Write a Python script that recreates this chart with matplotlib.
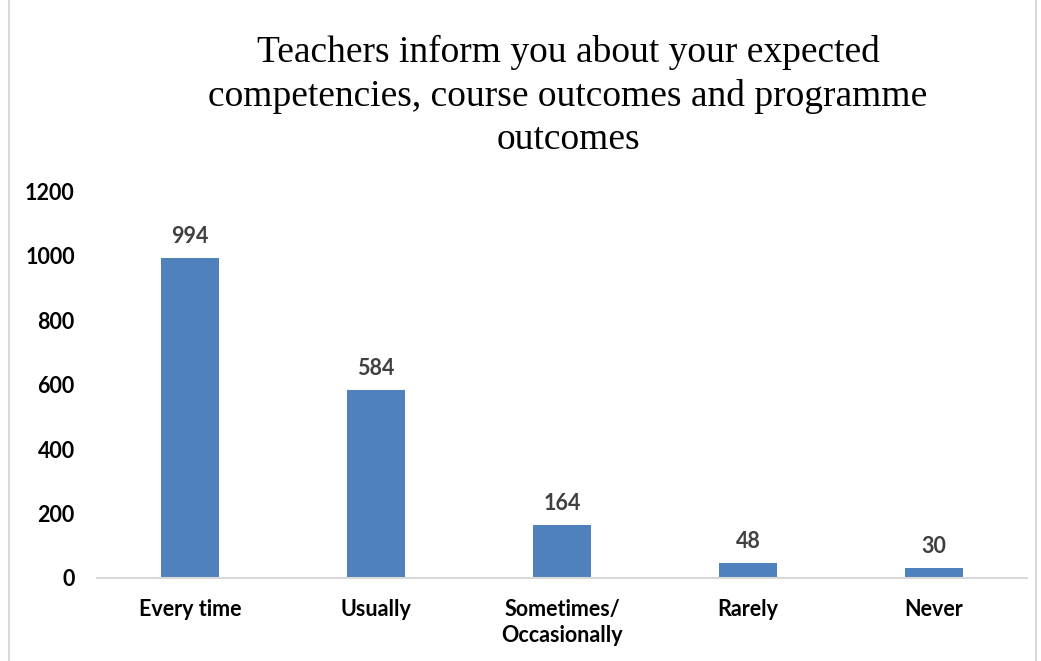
import numpy as np
import matplotlib.pyplot as plt
from matplotlib.patches import Rectangle

categories = ["Every time", "Usually", "Sometimes/\nOccasionally", "Rarely", "Never"]
counts = [994, 584, 164, 48, 30]
yticks = [0, 200, 400, 600, 800, 1000, 1200]
title = "Teachers inform you about your expected\ncompetencies, course outcomes and programme\noutcomes"

W, H = 1041, 661
fig = plt.figure(figsize=(W / 100, H / 100), dpi=100)

# chart frame
fig.patches.append(Rectangle((9 / W, -0.05), 1027 / W, 1.2, transform=fig.transFigure,
                             fill=False, edgecolor="#d9d9d9", linewidth=1.5))

ax = fig.add_axes([97 / W, 1 - 578 / H, 930 / W, (578 - 191.6) / H])
x = np.arange(len(categories))
ax.bar(x, counts, width=0.31, color="#4f81bd")
ax.set_xlim(-0.5, len(categories) - 0.5)
ax.set_ylim(0, 1200)

for xi, v in zip(x, counts):
    ax.text(xi, v + 34, str(v), ha="center", va="bottom", fontsize=15.5,
            fontweight="bold", color="#404040", family="Lato")

ax.set_yticks(yticks)
ax.set_yticklabels([str(t) for t in yticks], fontsize=15.5, fontweight="bold", family="Lato")
ax.set_xticks(x)
ax.set_xticklabels(categories, fontsize=15.5, fontweight="bold", family="Lato", linespacing=1.3)
ax.tick_params(axis="both", length=0)
ax.tick_params(axis="y", pad=16)
ax.tick_params(axis="x", pad=15)

for s in ["top", "right", "left"]:
    ax.spines[s].set_visible(False)
ax.spines["bottom"].set_color("#d9d9d9")
ax.spines["bottom"].set_linewidth(1.5)

fig.text(568 / W, 1 - 35 / H, title, ha="center", va="top", fontsize=27,
         family="Liberation Serif", linespacing=1.32)

fig.savefig("out.png", dpi=100)
